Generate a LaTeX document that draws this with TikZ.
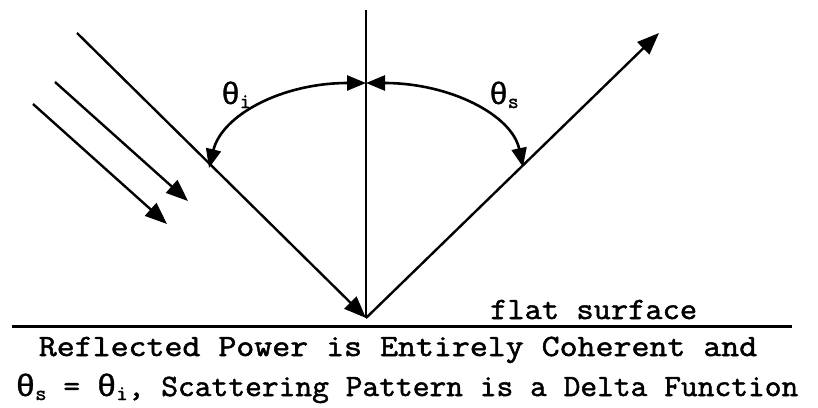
\documentclass[tikz,border=0pt]{standalone}
\usepackage{fontspec}
\setmainfont{Latin Modern Mono}[FakeBold=1.6]
\newfontfamily\grk{Liberation Mono}[FakeBold=1]
\usetikzlibrary{arrows.meta}
\newcommand{\subtx}[1]{\raisebox{-4pt}{\fontsize{21}{21}\selectfont #1}}
\newcommand{\thang}{{\grk θ}}
\tikzset{
  ray/.style={line width=2.4pt,-{Triangle[length=22pt,width=17pt]}},
  plain/.style={line width=1.8pt},
  arc/.style={line width=2.6pt,{Triangle[length=19pt,width=15pt]}-{Triangle[length=19pt,width=15pt]}},
  lbl/.style={inner sep=0pt,font=\fontsize{31}{36}\selectfont},
}
\begin{document}
\begin{tikzpicture}[x=1pt,y=-1pt]
\useasboundingbox (0,0) rectangle (818,407);
\coordinate (O) at (366,318);
\coordinate (top) at (366,10);
\coordinate (S1) at (12,326);
\coordinate (S2) at (792,326);
\coordinate (in0) at (77,33);
\coordinate (refl) at (659,33);
\coordinate (r1a) at (55,82);
\coordinate (r1b) at (188,201);
\coordinate (r2a) at (33,104);
\coordinate (r2b) at (167,224);
\coordinate (arcTop) at (366,83);
\coordinate (arcL) at (209,168);
\coordinate (arcR) at (523,167);
% surface and normal
\draw[line width=3pt] (S1) -- (S2);
\draw[plain] (top) -- (O);
% rays
\draw[ray] (in0) -- (O);
\draw[ray] (O) -- (refl);
\draw[ray] (r1a) -- (r1b);
\draw[ray] (r2a) -- (r2b);
% angle arcs
\draw[arc] (arcL) .. controls (222,115) and (282,83) .. (arcTop);
\draw[arc] (arcR) .. controls (512,115) and (450,83) .. (arcTop);
% labels
\node[lbl,anchor=base] (ti) at (236,104) {\thang\subtx{i}};
\node[lbl,anchor=base] (ts) at (504,104) {\thang\subtx{s}};
\node[lbl,anchor=base west] (fs) at (490,319) {\scalebox{1.08}[1]{flat surface}};
\node[lbl,anchor=base] (c1) at (398,356) {\scalebox{1.125}[1]{Reflected Power is Entirely Coherent and}};
\node[lbl,anchor=base] (c2) at (407,396) {\scalebox{1.05}[1]{\thang\subtx{s} = \thang\subtx{i}, Scattering Pattern is a Delta Function}};
\end{tikzpicture}
\end{document}
